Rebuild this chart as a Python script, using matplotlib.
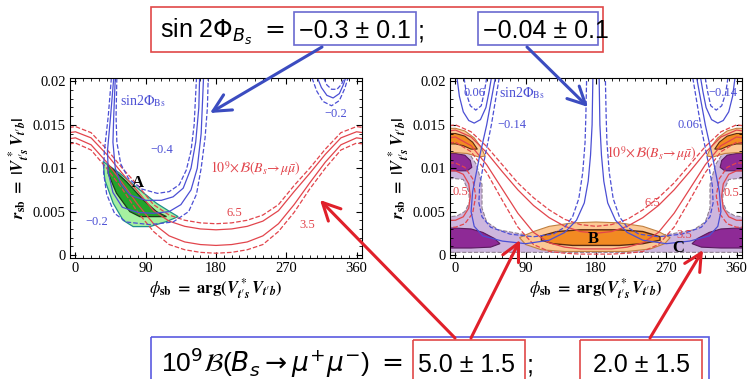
import matplotlib
matplotlib.use('Agg')
import matplotlib.pyplot as plt
from matplotlib.ticker import MultipleLocator
from matplotlib.patches import Rectangle

plt.rcParams['font.family'] = ['Liberation Serif', 'DejaVu Serif']
plt.rcParams['mathtext.fontset'] = 'stix'

BLUE = '#4b4fd4'
RED = '#e2454c'
ABLUE = '#3b4cc0'
AREDC = '#e0202a'

# ---------------- data ----------------
# Bs -> mu mu contours (6.5 and 3.5), phi grid shared by all of them
red_phi = [-8, 0, 20, 40, 60, 80, 100, 120, 140, 160, 180,
           200, 220, 240, 260, 280, 300, 320, 340, 360, 368]
left_65_dash = [0.0147, 0.0148, 0.0141, 0.0122, 0.0100, 0.0080, 0.0058, 0.0046, 0.0040, 0.0037, 0.0036,
                0.0037, 0.0040, 0.0046, 0.0058, 0.0080, 0.0100, 0.0122, 0.0141, 0.0148, 0.0147]
left_65_solid = [0.0141, 0.0142, 0.0135, 0.0116, 0.0094, 0.0073, 0.0051, 0.0039, 0.0033, 0.0030, 0.0029,
                 0.0030, 0.0033, 0.0039, 0.0051, 0.0073, 0.0094, 0.0116, 0.0135, 0.0142, 0.0141]
left_35_solid = [0.0134, 0.0135, 0.0127, 0.0107, 0.0083, 0.0058, 0.0036, 0.0022, 0.0015, 0.0012, 0.0011,
                 0.0012, 0.0015, 0.0022, 0.0036, 0.0058, 0.0083, 0.0107, 0.0127, 0.0135, 0.0134]
left_35_dash = [0.0128, 0.0129, 0.0121, 0.0100, 0.0076, 0.0049, 0.0027, 0.0012, 0.0006, 0.0003, 0.0002,
                0.0003, 0.0006, 0.0012, 0.0027, 0.0049, 0.0076, 0.0100, 0.0121, 0.0129, 0.0128]

right_65_dash = [0.0149, 0.0150, 0.0142, 0.0125, 0.0104, 0.0083, 0.0066, 0.0052, 0.0041, 0.0035, 0.0033,
                 0.0035, 0.0041, 0.0052, 0.0066, 0.0083, 0.0104, 0.0125, 0.0142, 0.0150, 0.0149]
right_65_solid = [0.0143, 0.0144, 0.0136, 0.0118, 0.0096, 0.0075, 0.0057, 0.0043, 0.0033, 0.0027, 0.0025,
                  0.0027, 0.0033, 0.0043, 0.0057, 0.0075, 0.0096, 0.0118, 0.0136, 0.0144, 0.0143]
right_35_solid = [0.0135, 0.0136, 0.0126, 0.0104, 0.0076, 0.0048, 0.0026, 0.0014, 0.0009, 0.0007, 0.0007,
                  0.0007, 0.0009, 0.0014, 0.0026, 0.0048, 0.0076, 0.0104, 0.0126, 0.0136, 0.0135]
right_35_dash = [0.0129, 0.0130, 0.0119, 0.0095, 0.0063, 0.0032, 0.0012, 0.0004, 0.0002, 0.0001, 0.0001,
                 0.0001, 0.0002, 0.0004, 0.0012, 0.0032, 0.0063, 0.0095, 0.0119, 0.0130, 0.0129]

# 0.5 contours near the edges of the right panel
c05_solid_l_phi = [-8, 0, 10, 17, 19, 17, 10, 0, -8]
c05_solid_r_phi = [368, 360, 350, 343, 341, 343, 350, 360, 368]
c05_solid_r = [0.0097, 0.0097, 0.0093, 0.0082, 0.0068, 0.0054, 0.0044, 0.0040, 0.0040]
c05_dash_l_phi = [-8, 0, 12, 22, 26, 22, 12, 0, -8]
c05_dash_r_phi = [368, 360, 348, 338, 334, 338, 348, 360, 368]
c05_dash_r = [0.0106, 0.0106, 0.0101, 0.0088, 0.0068, 0.0048, 0.0036, 0.0032, 0.0032]

# sin 2Phi contours, left panel (-0.4 and -0.2)
m04_dash_phi = [53, 52, 53, 58, 68, 85, 105, 120, 133, 142, 148, 152, 155]
m04_dash_r = [0.0204, 0.016, 0.013, 0.0105, 0.0088, 0.0076, 0.0071, 0.0073, 0.0081, 0.0098, 0.012, 0.015, 0.0204]
m04_solid_phi = [51, 49, 48, 51, 58, 70, 90, 110, 125, 138, 148, 154, 158, 159]
m04_solid_r = [0.0204, 0.016, 0.013, 0.010, 0.0082, 0.0069, 0.0063, 0.0063, 0.0067, 0.0077, 0.0100, 0.013, 0.017, 0.0204]
m02_solid_phi = [49, 45, 41, 42, 48, 60, 80, 100, 120, 135, 148, 156, 161, 164]
m02_solid_r = [0.0204, 0.016, 0.012, 0.0095, 0.0072, 0.0055, 0.0049, 0.0048, 0.0050, 0.0058, 0.0075, 0.010, 0.014, 0.0204]
m02_dash_phi = [46, 42, 37, 36, 40, 50, 65, 95, 125, 145, 155, 161, 166, 169, 170]
m02_dash_r = [0.0204, 0.016, 0.012, 0.0095, 0.0070, 0.0048, 0.0038, 0.0035, 0.0038, 0.0050, 0.0070, 0.010, 0.0135, 0.017, 0.0204]
tr_in_dash_phi = [318, 322, 328, 335, 341, 344]
tr_in_dash_r = [0.0204, 0.0196, 0.0191, 0.0191, 0.0197, 0.0204]
tr_solid_phi = [310, 315, 322, 330, 338, 343, 346]
tr_solid_r = [0.0204, 0.0193, 0.0184, 0.0181, 0.0186, 0.0196, 0.0204]
tr_out_dash_phi = [303, 309, 317, 328, 338, 345, 349]
tr_out_dash_r = [0.0204, 0.0189, 0.0177, 0.0172, 0.0178, 0.0192, 0.0204]

# region A (left panel)
greenA_light_phi = [35.4, 56.8, 82.4, 103.8, 120.8, 131.5, 116.6, 95.2, 73.9, 61, 48.3, 37.6]
greenA_light_r = [0.01077, 0.00942, 0.0075, 0.00596, 0.0050, 0.00442, 0.00385, 0.00327, 0.00327, 0.0040, 0.00596, 0.00865]
greenA_dark_phi = [41.8, 65.3, 86.7, 103.8, 116.6, 82.4, 69.6, 52.5, 41.8]
greenA_dark_r = [0.01038, 0.00846, 0.00635, 0.0050, 0.00442, 0.00442, 0.0050, 0.00712, 0.00942]

# sin 2Phi contours, right panel (0.06 and -0.14)
big_solid_l_phi = [51, 40, 30, 22, 20, 24, 35, 60, 90, 120, 140, 155, 165, 170, 173, 175, 176]
big_solid_r_phi = [309, 320, 330, 338, 340, 336, 325, 300, 270, 240, 220, 205, 195, 190, 187, 185, 184]
big_solid_r = [0.0204, 0.0150, 0.0110, 0.0073, 0.0050, 0.0033, 0.0022, 0.0016, 0.0013, 0.0017, 0.0026,
               0.0040, 0.0060, 0.0085, 0.0115, 0.0150, 0.0204]
big_dash_l_phi = [56, 46, 37, 31, 30, 34, 45, 70, 100, 125, 140, 150, 158, 163, 166, 167, 168]
big_dash_r_phi = [304, 314, 323, 329, 330, 326, 315, 290, 260, 235, 220, 210, 202, 197, 194, 193, 192]
big_dash_r = [0.0204, 0.0150, 0.0110, 0.0080, 0.0060, 0.0044, 0.0032, 0.0024, 0.0021, 0.0024, 0.0032,
              0.0044, 0.0065, 0.0095, 0.0130, 0.0160, 0.0204]
cup_solid_l_phi = [2, 5, 10, 17, 24, 32, 39, 43, 46]
cup_solid_r_phi = [358, 355, 350, 343, 336, 328, 321, 317, 314]
cup_solid_r = [0.0204, 0.0183, 0.0165, 0.0155, 0.0152, 0.0156, 0.0170, 0.0188, 0.0204]
cup_dash_l_phi = [11, 14, 19, 26, 33, 37, 40]
cup_dash_r_phi = [349, 346, 341, 334, 327, 323, 320]
cup_dash_r = [0.0204, 0.0186, 0.0172, 0.0167, 0.0172, 0.0188, 0.0204]

# region C (purple) and region B (orange), right panel
purple_light_phi = [-8, 0, 17, 27, 34, 34, 40, 55, 85, 132, 180, 228, 275, 305, 320, 326, 326, 333, 343, 360, 368, 368, -8]
purple_light_r = [0.0121, 0.0121, 0.0118, 0.0104, 0.0081, 0.0054, 0.0038, 0.0029, 0.0024, 0.0021, 0.0020, 0.0021,
                  0.0024, 0.0029, 0.0038, 0.0054, 0.0081, 0.0104, 0.0118, 0.0121, 0.0121, 0.0003, 0.0003]
hole_l_phi = [-8, 0, 10, 17, 18, 12, 2, -8]
hole_r_phi = [368, 360, 350, 343, 342, 348, 358, 368]
hole_r = [0.0088, 0.0088, 0.0087, 0.0073, 0.0061, 0.0050, 0.0045, 0.0044]
pdark_up_l_phi = [-8, 0, 12, 19, 21, 15, 0, -8]
pdark_up_r_phi = [368, 360, 348, 341, 339, 345, 360, 368]
pdark_up_r = [0.0117, 0.0117, 0.0115, 0.0109, 0.0101, 0.0097, 0.0097, 0.0097]
pdark_lo_l_phi = [-8, 0, 20, 35, 50, 57, 45, 20, 0, -8]
pdark_lo_r_phi = [368, 360, 340, 325, 310, 303, 315, 340, 360, 368]
pdark_lo_r = [0.0031, 0.0031, 0.0030, 0.0026, 0.0019, 0.0013, 0.0009, 0.0008, 0.0008, 0.0008]
orange_tl_l_phi = [-8, 0, 12, 24, 33, 38, 30, 15, 0, -8]
orange_tl_r_phi = [368, 360, 348, 336, 327, 322, 330, 345, 360, 368]
orange_tl_r = [0.0146, 0.0146, 0.0143, 0.0135, 0.0124, 0.0114, 0.0113, 0.0117, 0.0118, 0.0118]
odark_tl_l_phi = [-8, 0, 12, 22, 28, 20, 10, 0, -8]
odark_tl_r_phi = [368, 360, 348, 338, 332, 340, 350, 360, 368]
odark_tl_r = [0.0140, 0.0140, 0.0137, 0.0130, 0.0122, 0.0122, 0.0126, 0.0128, 0.0128]
orangeB_phi = [82, 100, 120, 150, 180, 210, 240, 260, 275, 268, 250, 220, 180, 140, 110, 90]
orangeB_r = [0.0020, 0.0027, 0.0033, 0.0037, 0.0038, 0.0037, 0.0033, 0.0027, 0.0020, 0.0013, 0.0007,
             0.0004, 0.0004, 0.0004, 0.0006, 0.0012]
odarkB_phi = [110, 130, 160, 180, 210, 240, 262, 262, 240, 210, 180, 150, 125, 110]
odarkB_r = [0.0022, 0.0027, 0.0029, 0.0029, 0.0029, 0.0027, 0.0021, 0.0017, 0.0013, 0.0011, 0.0011,
            0.0011, 0.0013, 0.0017]

x_ticks = [0, 90, 180, 270, 360]
y_ticks = [0, 0.005, 0.01, 0.015, 0.02]
y_ticklabels = ['0', '0.005', '0.01', '0.015', '0.02']

# ---------------- figure ----------------
fig = plt.figure(figsize=(7.5, 3.79), dpi=100)
axL = fig.add_axes([70 / 750, 1 - 258 / 379, 292 / 750, 180 / 379])
axR = fig.add_axes([450 / 750, 1 - 258 / 379, 292 / 750, 180 / 379])

vv = "\\mathbfit{V}^{\\,*}_{\\mathbfit{t}\u2032\\mathbfit{s}}\\,\\mathbfit{V}_{\\mathbfit{t}\u2032\\mathbfit{b}}"
xlab = r'$\phi_{\mathbf{sb}}\ \mathbf{=\ arg(}' + vv + r'\mathbf{)}$'
ylab = r'$\mathbfit{r}_{\mathbf{sb}}\ \mathbf{=}\ \mathbf{|}' + vv + r'\mathbf{|}$'
for ax in (axL, axR):
    ax.set_xlim(-7, 367)
    ax.set_ylim(-0.00035, 0.0204)
    ax.set_xticks(x_ticks)
    ax.set_yticks(y_ticks)
    ax.set_yticklabels(y_ticklabels)
    ax.xaxis.set_minor_locator(MultipleLocator(10))
    ax.yaxis.set_minor_locator(MultipleLocator(0.001))
    ax.tick_params(which='both', direction='in', top=True, right=True, labelsize=10.5, pad=3)
    ax.tick_params(which='major', length=4.5, width=0.8)
    ax.tick_params(which='minor', length=2.2, width=0.6)
    ax.set_xlabel(xlab, fontsize=12, labelpad=1)
    ax.set_ylabel(ylab, fontsize=12, labelpad=1)

# ---- left panel
ax = axL
ax.fill(greenA_light_phi, greenA_light_r, color='#a6f0a0', ec='#1f8f8a', lw=0.9, zorder=1)
ax.fill(greenA_dark_phi, greenA_dark_r, color='#23a42c', ec='#1c3b1c', lw=0.9, zorder=1.1)
ax.plot(red_phi, left_65_dash, '--', color=RED, lw=0.9)
ax.plot(red_phi, left_65_solid, '-', color=RED, lw=0.9)
ax.plot(red_phi, left_35_solid, '-', color=RED, lw=0.9)
ax.plot(red_phi, left_35_dash, '--', color=RED, lw=0.9)
ax.plot(m04_dash_phi, m04_dash_r, '--', color=BLUE, lw=0.9)
ax.plot(m04_solid_phi, m04_solid_r, '-', color=BLUE, lw=0.9)
ax.plot(m02_solid_phi, m02_solid_r, '-', color=BLUE, lw=0.9)
ax.plot(m02_dash_phi, m02_dash_r, '--', color=BLUE, lw=0.9)
ax.plot(tr_in_dash_phi, tr_in_dash_r, '--', color=BLUE, lw=0.9)
ax.plot(tr_solid_phi, tr_solid_r, '-', color=BLUE, lw=0.9)
ax.plot(tr_out_dash_phi, tr_out_dash_r, '--', color=BLUE, lw=0.9)
ax.text(57, 0.0177, r'sin2$\Phi_{\rm Bs}$', color=BLUE, fontsize=10, va='center')
ax.text(110, 0.0121, '\u22120.4', color=BLUE, fontsize=9, ha='center', va='center')
ax.text(27, 0.0038, '\u22120.2', color=BLUE, fontsize=9, ha='center', va='center')
ax.text(333, 0.0163, '\u22120.2', color=BLUE, fontsize=9, ha='center', va='center')
ax.text(80, 0.0083, 'A', color='black', fontsize=12, fontweight='bold', ha='center', va='center')
ax.text(172, 0.0100, r'$10^9\!\times\!\mathcal{B}(B_s\!\rightarrow\!\mu\bar{\mu})$',
        color=RED, fontsize=10, va='center')
ax.text(203, 0.0048, '6.5', color=RED, fontsize=9, ha='center', va='center')
ax.text(297, 0.0035, '3.5', color=RED, fontsize=9, ha='center', va='center')

# ---- right panel
ax = axR
ax.fill(purple_light_phi, purple_light_r, color='#cdb6de', ec='#8f8090', lw=0.8, ls='--', zorder=1)
ax.fill(hole_l_phi, hole_r, color='white', ec='#8f8090', lw=0.8, ls='--', zorder=1.05)
ax.fill(hole_r_phi, hole_r, color='white', ec='#8f8090', lw=0.8, ls='--', zorder=1.05)
ax.fill(pdark_up_l_phi, pdark_up_r, color='#8e2a96', ec='#5a1a5e', lw=0.8, zorder=1.1)
ax.fill(pdark_up_r_phi, pdark_up_r, color='#8e2a96', ec='#5a1a5e', lw=0.8, zorder=1.1)
ax.fill(pdark_lo_l_phi, pdark_lo_r, color='#8e2a96', ec='#5a1a5e', lw=0.8, zorder=1.1)
ax.fill(pdark_lo_r_phi, pdark_lo_r, color='#8e2a96', ec='#5a1a5e', lw=0.8, zorder=1.1)
ax.fill(orange_tl_l_phi, orange_tl_r, color='#fcc894', ec='#c08040', lw=0.8, zorder=1.2)
ax.fill(orange_tl_r_phi, orange_tl_r, color='#fcc894', ec='#c08040', lw=0.8, zorder=1.2)
ax.fill(odark_tl_l_phi, odark_tl_r, color='#f28a22', ec='#5a2a10', lw=0.8, zorder=1.3)
ax.fill(odark_tl_r_phi, odark_tl_r, color='#f28a22', ec='#5a2a10', lw=0.8, zorder=1.3)
ax.fill(orangeB_phi, orangeB_r, color='#fcc894', ec='#c08040', lw=0.8, zorder=1.2)
ax.fill(odarkB_phi, odarkB_r, color='#f28a22', ec='#5a2a10', lw=1.0, zorder=1.3)

ax.plot(red_phi, right_65_dash, '--', color=RED, lw=0.9)
ax.plot(red_phi, right_65_solid, '-', color=RED, lw=0.9)
ax.plot(red_phi, right_35_solid, '-', color=RED, lw=0.9)
ax.plot(red_phi, right_35_dash, '--', color=RED, lw=0.9)
ax.plot(c05_solid_l_phi, c05_solid_r, '-', color=RED, lw=0.9)
ax.plot(c05_solid_r_phi, c05_solid_r, '-', color=RED, lw=0.9)
ax.plot(c05_dash_l_phi, c05_dash_r, '--', color=RED, lw=0.9)
ax.plot(c05_dash_r_phi, c05_dash_r, '--', color=RED, lw=0.9)
ax.plot(big_solid_l_phi, big_solid_r, '-', color=BLUE, lw=0.9)
ax.plot(big_solid_r_phi, big_solid_r, '-', color=BLUE, lw=0.9)
ax.plot(big_dash_l_phi, big_dash_r, '--', color=BLUE, lw=0.9)
ax.plot(big_dash_r_phi, big_dash_r, '--', color=BLUE, lw=0.9)
ax.plot(cup_solid_l_phi, cup_solid_r, '-', color=BLUE, lw=0.9)
ax.plot(cup_solid_r_phi, cup_solid_r, '-', color=BLUE, lw=0.9)
ax.plot(cup_dash_l_phi, cup_dash_r, '--', color=BLUE, lw=0.9)
ax.plot(cup_dash_r_phi, cup_dash_r, '--', color=BLUE, lw=0.9)
ax.text(24, 0.0187, '0.06', color=BLUE, fontsize=9, ha='center', va='center')
ax.text(56, 0.0187, r'sin2$\Phi_{\rm Bs}$', color=BLUE, fontsize=10, va='center')
ax.text(72, 0.0150, '\u22120.14', color=BLUE, fontsize=9, ha='center', va='center')
ax.text(343, 0.0187, '\u22120.14', color=BLUE, fontsize=9, ha='center', va='center')
ax.text(298, 0.0150, '0.06', color=BLUE, fontsize=9, ha='center', va='center')
ax.text(193, 0.0117, r'$10^9\!\times\!\mathcal{B}(B_s\!\rightarrow\!\mu\bar{\mu})$',
        color=RED, fontsize=10, va='center')
ax.text(6, 0.0073, '0.5', color=RED, fontsize=9, ha='center', va='center')
ax.text(354, 0.0071, '0.5', color=RED, fontsize=9, ha='center', va='center')
ax.text(252, 0.0060, '6.5', color=RED, fontsize=9, ha='center', va='center')
ax.text(293, 0.0023, '3.5', color=RED, fontsize=9, ha='center', va='center')
ax.text(176, 0.0018, 'B', color='black', fontsize=12, fontweight='bold', ha='center', va='center', zorder=5)
ax.text(285, 0.0008, 'C', color='black', fontsize=12, fontweight='bold', ha='center', va='center', zorder=5)

# ---- overlay in pixel coordinates: boxes and arrows
ov = fig.add_axes([0, 0, 1, 1])
ov.set_xlim(0, 750)
ov.set_ylim(379, 0)
ov.axis('off')
ov.set_zorder(10)

sans = ['Liberation Sans', 'DejaVu Sans']
ov.add_patch(Rectangle((151, 7), 452, 45, fill=False, ec='#e04848', lw=1.2))
ov.add_patch(Rectangle((294, 12), 122, 33, fill=False, ec='#6a6ad0', lw=1.2))
ov.add_patch(Rectangle((478, 12), 120, 33, fill=False, ec='#6a6ad0', lw=1.2))
ov.text(160, 38, r'sin 2$\Phi_{B_s}$ $=$', family=sans, math_fontfamily='dejavusans', fontsize=18)
ov.text(299, 38, '\u22120.3 \u00b1 0.1', family=sans, fontsize=18)
ov.text(418, 38, ';', family=sans, fontsize=18)
ov.text(483, 38, '\u22120.04 \u00b1 0.1', family=sans, fontsize=18)

ov.add_patch(Rectangle((151, 337), 558, 50, fill=False, ec='#5a5ae0', lw=1.2))
ov.add_patch(Rectangle((413, 340), 112, 48, fill=False, ec='#e04848', lw=1.2))
ov.add_patch(Rectangle((580, 340), 122, 48, fill=False, ec='#e04848', lw=1.2))
ov.text(161, 372, r'10$^9\mathcal{B}$($B_s \rightarrow \mu^{+}\mu^{-}$) $=$', family=sans,
        math_fontfamily='dejavusans', fontsize=19)
ov.text(418, 372, '5.0 \u00b1 1.5', family=sans, fontsize=18)
ov.text(527, 372, ';', family=sans, fontsize=18)
ov.text(593, 372, '2.0 \u00b1 1.5', family=sans, fontsize=18)

arrows_blue = [((322, 47), (210, 113)), ((527, 47), (588, 107))]
arrows_red = [((455, 338), (320, 200)), ((471, 338), (520, 240)), ((650, 338), (703, 250))]
for tail, tip in arrows_blue:
    ov.annotate('', xy=tip, xytext=tail,
                arrowprops=dict(arrowstyle='->,head_length=0.7,head_width=0.35', color=ABLUE,
                                lw=2.2, mutation_scale=18, shrinkA=0, shrinkB=0))
for tail, tip in arrows_red:
    ov.annotate('', xy=tip, xytext=tail,
                arrowprops=dict(arrowstyle='->,head_length=0.7,head_width=0.35', color=AREDC,
                                lw=2.2, mutation_scale=18, shrinkA=0, shrinkB=0))

fig.savefig('out.png', dpi=100)
